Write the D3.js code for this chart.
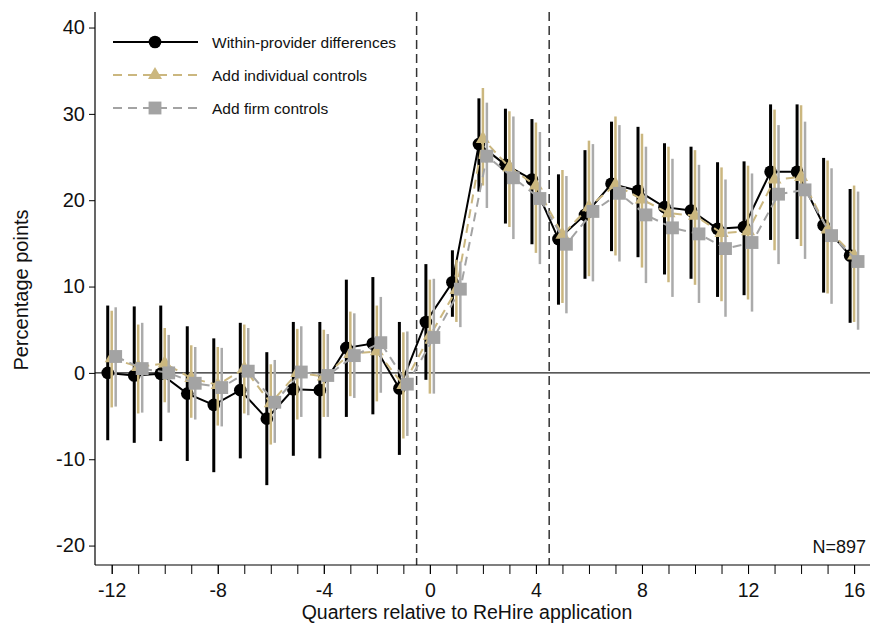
<!DOCTYPE html>
<html>
<head>
<meta charset="utf-8">
<script src="https://cdn.jsdelivr.net/npm/d3@7"></script>
<style>
  html, body { margin: 0; padding: 0; background: #fff; }
  svg { display: block; font-family: "Liberation Sans", Arial, Helvetica, sans-serif; }
</style>
</head>
<body>
<svg id="chart" width="871" height="627"></svg>
<script>
// Event-study estimates by quarter relative to the ReHire application
const quarters = [-12,-11,-10,-9,-8,-7,-6,-5,-4,-3,-2,-1,0,1,2,3,4,5,6,7,8,9,10,11,12,13,14,15,16];

// Within-provider differences
const withinEst = [0,-0.3,-0.1,-2.4,-3.7,-2.0,-5.3,-1.9,-2.0,2.9,3.4,-1.8,5.9,10.5,26.5,24.1,22.4,15.5,18.3,21.9,21.1,19.2,18.8,16.7,16.9,23.3,23.3,17.1,13.6];
const withinLo  = [-7.8,-8.1,-7.9,-10.2,-11.5,-9.9,-13.0,-9.6,-9.9,-5.1,-4.8,-9.5,-0.8,6.5,21.0,17.3,14.9,7.9,10.9,14.1,13.4,11.4,10.9,8.8,9.0,15.4,15.5,9.3,5.8];
const withinHi  = [7.8,7.7,7.8,5.4,4.0,5.8,2.4,5.9,5.9,10.8,11.1,5.9,12.6,14.2,31.8,30.6,29.4,23.0,25.8,29.1,28.5,26.6,26.2,24.4,24.5,31.1,31.1,24.9,21.3];

// Add individual controls
const indivEst = [1.7,0.7,1.1,-0.6,-1.4,0.5,-3.5,0.0,-0.4,2.2,2.5,-1.4,4.3,9.6,27.1,23.8,21.7,16.0,19.2,21.8,20.1,18.5,18.2,16.2,16.4,22.4,22.7,16.6,13.6];
const indivLo  = [-4.0,-4.7,-3.4,-5.2,-6.1,-4.7,-8.3,-5.4,-5.1,-2.7,-3.3,-7.6,-2.4,5.9,21.7,16.9,13.9,8.1,11.2,13.6,12.2,10.5,10.2,8.3,8.5,14.2,14.7,9.2,5.9];
const indivHi  = [7.2,5.6,5.2,3.2,3.0,5.6,1.0,5.1,5.0,7.1,7.8,4.7,10.8,13.1,33.0,30.3,29.0,23.5,26.9,29.7,27.7,26.2,25.8,23.8,24.0,30.5,31.0,24.6,21.7];

// Add firm controls
const firmEst = [1.9,0.5,0.0,-1.2,-1.7,0.2,-3.4,0.1,-0.3,2.0,3.5,-1.3,4.1,9.7,25.1,22.6,20.2,14.9,18.7,20.8,18.3,16.8,16.1,14.4,15.1,20.7,21.2,15.9,12.9];
const firmLo  = [-3.9,-4.6,-4.6,-5.4,-6.2,-4.9,-8.1,-5.1,-5.1,-2.9,-2.3,-7.3,-2.4,5.3,19.1,15.5,12.6,6.9,10.6,12.9,10.4,8.8,8.1,6.5,7.1,12.6,13.2,8.0,5.0];
const firmHi  = [7.6,5.8,4.4,3.0,2.9,5.2,1.5,5.4,4.5,6.9,8.8,4.8,10.9,12.9,31.3,29.7,27.9,22.8,26.5,28.7,26.2,24.8,24.1,22.4,23.1,28.7,29.1,23.7,21.0];

const seriesNames = ["Within-provider differences", "Add individual controls", "Add firm controls"];
const xTickLabels = [-12,-8,-4,0,4,8,12,16];
const yTickLabels = [-20,-10,0,10,20,30,40];
const eventLines = [-0.5, 4.5];
const sampleSize = "N=897";
const xTitle = "Quarters relative to ReHire application";
const yTitle = "Percentage points";

const GOLD = "#CBB77F";
const GRAY = "#A3A3A3";

const series = [
  { name: seriesNames[0], est: withinEst, lo: withinLo, hi: withinHi, shift: -0.15,
    color: "#000000", barColor: "#000000", barWidth: 3, dash: null, symbol: d3.symbolCircle, size: 125 },
  { name: seriesNames[1], est: indivEst, lo: indivLo, hi: indivHi, shift: 0,
    color: GOLD, barColor: GOLD, barWidth: 2.5, dash: "9,6", symbol: d3.symbolTriangle, size: 85 },
  { name: seriesNames[2], est: firmEst, lo: firmLo, hi: firmHi, shift: 0.15,
    color: GRAY, barColor: "#ABABAB", barWidth: 2.5, dash: "9,6", symbol: d3.symbolSquare, size: 165 }
];

const svg = d3.select("#chart");
const plotLeft = 95, plotRight = 870, plotTop = 12, plotBottom = 565;

const x = d3.scaleLinear().domain([-12.63, 16.6]).range([plotLeft, plotRight]);
const y = d3.scaleLinear().domain([-22.25, 41.8]).range([plotBottom, plotTop]);

const minus = d => d < 0 ? "-" + Math.abs(d) : String(d);

// reference lines
svg.append("line")
  .attr("x1", plotLeft).attr("x2", plotRight)
  .attr("y1", y(0)).attr("y2", y(0))
  .attr("stroke", "#222").attr("stroke-width", 1.2);

svg.selectAll("line.event").data(eventLines).join("line")
  .attr("class", "event")
  .attr("x1", d => x(d)).attr("x2", d => x(d))
  .attr("y1", plotTop).attr("y2", plotBottom)
  .attr("stroke", "#333").attr("stroke-width", 1.5)
  .attr("stroke-dasharray", "9,5");

// axes
const yAxis = d3.axisLeft(y).tickValues(yTickLabels).tickSize(6).tickPadding(4).tickFormat(minus);
const gy = svg.append("g").attr("transform", `translate(${plotLeft},0)`).call(yAxis);
gy.select(".domain").attr("d", `M0,${plotTop}V${plotBottom}`).attr("stroke", "#000").attr("stroke-width", 1.2);
gy.selectAll(".tick line").attr("stroke", "#000");
gy.selectAll(".tick text").attr("font-size", 20).attr("fill", "#111")
  .attr("font-family", "Liberation Sans, Arial, sans-serif");

const xAxisMinor = d3.axisBottom(x).tickValues(quarters).tickSize(9).tickFormat("");
const gxm = svg.append("g").attr("transform", `translate(0,${plotBottom})`).call(xAxisMinor);
gxm.select(".domain").attr("d", `M${plotLeft},0H${plotRight}`).attr("stroke", "#000").attr("stroke-width", 1.2);
gxm.selectAll(".tick line").attr("stroke", "#000");

const xAxis = d3.axisBottom(x).tickValues(xTickLabels).tickSize(9).tickPadding(6).tickFormat(minus);
const gx = svg.append("g").attr("transform", `translate(0,${plotBottom})`).call(xAxis);
gx.select(".domain").remove();
gx.selectAll(".tick line").attr("stroke", "#000");
gx.selectAll(".tick text").attr("font-size", 19.5).attr("fill", "#111")
  .attr("font-family", "Liberation Sans, Arial, sans-serif")
  .attr("dy", null).attr("y", 32);

// titles
svg.append("text").attr("x", 467).attr("y", 619).attr("text-anchor", "middle")
  .attr("font-size", 19.5).attr("fill", "#111").text(xTitle);
svg.append("text").attr("transform", "translate(28,290) rotate(-90)").attr("text-anchor", "middle")
  .attr("font-size", 20).attr("fill", "#111").text(yTitle);
svg.append("text").attr("x", 866).attr("y", 553).attr("text-anchor", "end")
  .attr("font-size", 18).attr("fill", "#111").text(sampleSize);

// series: confidence intervals, connecting line, markers
series.forEach(s => {
  const pts = quarters.map((q, i) => ({ q: q + s.shift, est: s.est[i], lo: s.lo[i], hi: s.hi[i] }));
  const g = svg.append("g");
  g.selectAll("line.ci").data(pts).join("line")
    .attr("class", "ci")
    .attr("x1", d => x(d.q)).attr("x2", d => x(d.q))
    .attr("y1", d => y(d.lo)).attr("y2", d => y(d.hi))
    .attr("stroke", s.barColor).attr("stroke-width", s.barWidth);
  g.append("path").datum(pts)
    .attr("d", d3.line().x(d => x(d.q)).y(d => y(d.est)))
    .attr("fill", "none").attr("stroke", s.color).attr("stroke-width", 2)
    .attr("stroke-dasharray", s.dash);
  g.selectAll("path.mk").data(pts).join("path")
    .attr("class", "mk")
    .attr("transform", d => `translate(${x(d.q)},${y(d.est)})`)
    .attr("d", d3.symbol().type(s.symbol).size(s.size))
    .attr("fill", s.color);
});

// legend
const legendRows = [42, 75, 108];
series.forEach((s, i) => {
  const ly = legendRows[i];
  const g = svg.append("g");
  g.append("line").attr("x1", 113).attr("x2", 198).attr("y1", ly).attr("y2", ly)
    .attr("stroke", s.color).attr("stroke-width", 2).attr("stroke-dasharray", s.dash);
  g.append("path").attr("transform", `translate(155,${ly})`)
    .attr("d", d3.symbol().type(s.symbol).size(s.size)).attr("fill", s.color);
  g.append("text").attr("x", 212).attr("y", ly + 5.5)
    .attr("font-size", 15.5).attr("fill", "#111").text(s.name);
});
</script>
</body>
</html>
